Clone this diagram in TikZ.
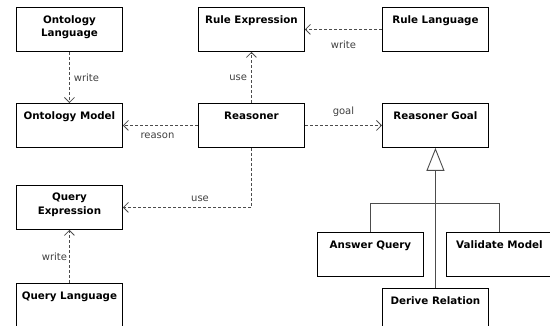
\documentclass[tikz,border=0pt]{standalone}
\usepackage{fontspec}
\setmainfont{DejaVu Sans}
\usetikzlibrary{arrows.meta}
\begin{document}
\begin{tikzpicture}[x=1pt,y=-1pt,
 box/.style={draw=black, line width=0.9pt, minimum width=106pt, minimum height=44pt, inner sep=0pt, anchor=north west},
 ttl/.style={font=\bfseries\fontsize{10.3}{13.5}\selectfont, align=center, anchor=north, inner sep=0pt},
 lbl/.style={font=\fontsize{10}{12}\selectfont, text=black!75, inner sep=0pt},
 dep/.style={draw=black!70, line width=0.8pt, dash pattern=on 3pt off 2pt, -{Straight Barb[length=5pt,width=10pt]}},
 gen/.style={draw=black!70, line width=0.9pt}]
\path[use as bounding box] (0,0) rectangle (550,326);
\clip (0,0) rectangle (550,326);
% boxes
\node[box] (ol) at (16,7) {};
\node[box] (re) at (198,7) {};
\node[box] (rl) at (382,7) {};
\node[box] (om) at (16,103) {};
\node[box] (rs) at (198,103) {};
\node[box] (rg) at (382,103) {};
\node[box] (qe) at (16,185) {};
\node[box] (aq) at (317,232) {};
\node[box] (vm) at (446,232) {};
\node[box] (ql) at (16,283) {};
\node[box] (dr) at (382,288) {};
% titles
\node[ttl] (tol) at ([yshift=-8pt]ol.north) {Ontology\\Language};
\node[ttl] (tre) at ([yshift=-8.5pt]re.north) {Rule Expression};
\node[ttl] (trl) at ([yshift=-8.5pt]rl.north) {Rule Language};
\node[ttl] (tom) at ([yshift=-8.5pt]om.north) {Ontology Model};
\node[ttl] (trs) at ([yshift=-8.5pt]rs.north) {Reasoner};
\node[ttl] (trg) at ([yshift=-8.5pt]rg.north) {Reasoner Goal};
\node[ttl] (tqe) at ([yshift=-8pt]qe.north) {Query\\Expression};
\node[ttl] (taq) at ([yshift=-8.5pt]aq.north) {Answer Query};
\node[ttl] (tvm) at ([yshift=-8.5pt]vm.north) {Validate Model};
\node[ttl] (tql) at ([yshift=-8.5pt]ql.north) {Query Language};
\node[ttl] (tdr) at ([yshift=-8.5pt]dr.north) {Derive Relation};
% dependencies
\draw[dep] (ol) -- node[lbl, right=4pt] (l1) {write} (om);
\draw[dep] (rs) -- node[lbl, left=4pt] (l2) {use} (re);
\draw[dep] (rl) -- node[lbl, below=11pt] (l3) {write} (re);
\draw[dep] (rs) -- node[lbl, below=7pt, xshift=-3pt] (l4) {reason} (om);
\draw[dep] (rs) -- node[lbl, above=8pt] (l5) {goal} (rg);
\draw[dep] (rs.south) |- node[lbl, pos=0.7, above=5pt] (l6) {use} (qe.east);
\draw[dep] (ql) -- node[lbl, left=2pt] (l7) {write} (qe);
% generalization
\draw[gen, -{Triangle[open, length=23pt, width=18pt, fill=white]}] (dr.north) -- (rg.south);
\draw[gen] (aq.north) -- ++(0,-29) -| (vm.north);
\end{tikzpicture}
\end{document}
